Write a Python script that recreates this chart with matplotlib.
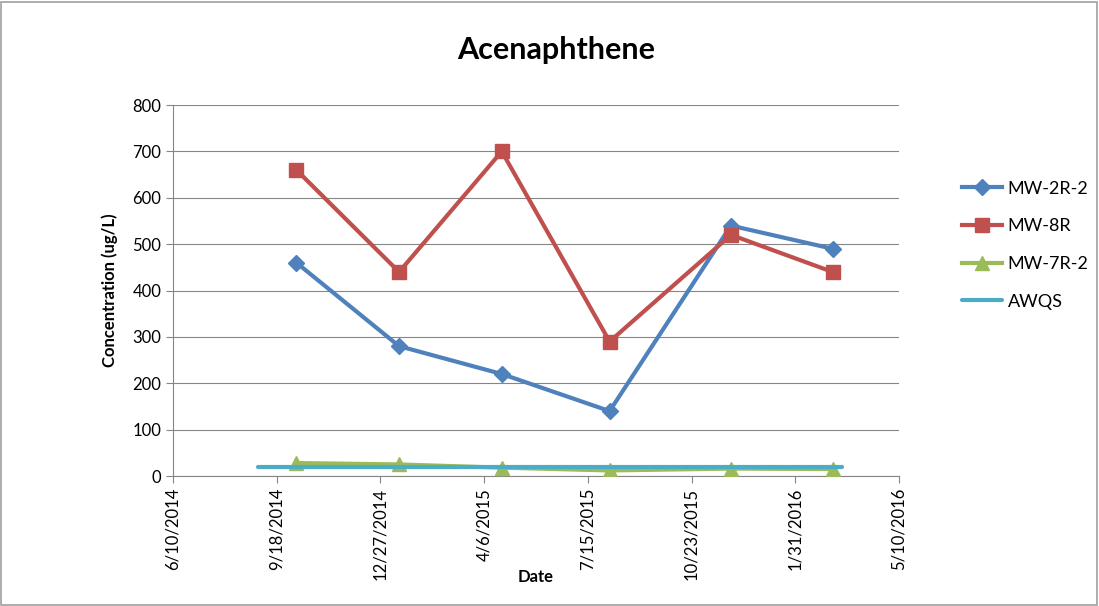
import matplotlib
matplotlib.use("Agg")
import matplotlib.pyplot as plt
import matplotlib.dates as mdates
from matplotlib.patches import Rectangle
import datetime as dt

plt.rcParams['font.family'] = ['Lato', 'DejaVu Sans']

dates = ["2014-10-07", "2015-01-14", "2015-04-23", "2015-08-05", "2015-11-30", "2016-03-07"]
mw2r2 = [460, 280, 220, 140, 540, 490]
mw8r = [660, 440, 700, 290, 520, 440]
mw7r2 = [28, 25, 18, 12, 16, 15]
awqs_dates = ["2014-08-31", "2016-03-16"]
awqs = [20, 20]
xtick_labels = ["6/10/2014", "9/18/2014", "12/27/2014", "4/6/2015", "7/15/2015",
                "10/23/2015", "1/31/2016", "5/10/2016"]

def to_d(s):
    return dt.datetime.strptime(s, "%Y-%m-%d")

x = [to_d(d) for d in dates]
xa = [to_d(d) for d in awqs_dates]
start = dt.datetime(2014, 6, 10)
ticks = [start + dt.timedelta(days=100 * i) for i in range(len(xtick_labels))]

fig = plt.figure(figsize=(10.99, 6.06), dpi=100)
fig.patches.append(Rectangle((0.001, 0.001), 0.997, 0.996, transform=fig.transFigure,
                             fill=False, edgecolor='#a0a0a0', linewidth=1.2))
ax = fig.add_axes([0.1574, 0.2145, 0.6606, 0.6122])

ax.plot(x, mw2r2, color='#4f81bd', lw=3, marker='D', ms=8, label='MW-2R-2', zorder=3)
ax.plot(x, mw8r, color='#c0504d', lw=3, marker='s', ms=10, label='MW-8R', zorder=3)
ax.plot(x, mw7r2, color='#9bbb59', lw=3, marker='^', ms=10, label='MW-7R-2', zorder=3)
ax.plot(xa, awqs, color='#4bacc6', lw=3, label='AWQS', zorder=4, solid_capstyle='round')

ax.set_xlim(ticks[0], ticks[-1])
ax.set_ylim(0, 800)
ax.set_yticks(range(0, 801, 100))
ax.set_xticks(ticks)
ax.set_xticklabels(xtick_labels, rotation=90, fontsize=12)
ax.tick_params(axis='y', labelsize=12, length=5, color='#868686')
ax.tick_params(axis='x', length=5, color='#868686')
ax.grid(axis='y', color='#868686', lw=0.8)
ax.set_axisbelow(True)
for s in ['top', 'right']:
    ax.spines[s].set_visible(False)
for s in ['left', 'bottom']:
    ax.spines[s].set_color('#868686')

fig.text(0.506, 0.917, 'Acenaphthene', fontsize=22, fontweight='bold',
         ha='center', va='center')
ax.set_ylabel('Concentration (ug/L)', fontsize=12, fontweight='bold', labelpad=10)
ax.set_xlabel('Date', fontsize=12, fontweight='bold', labelpad=-8)

ax.legend(loc='upper left', bbox_to_anchor=(1.065, 0.84), frameon=False, fontsize=13,
          handlelength=2.2, labelspacing=1.2, handletextpad=0.3)

fig.savefig('out.png', dpi=100)
